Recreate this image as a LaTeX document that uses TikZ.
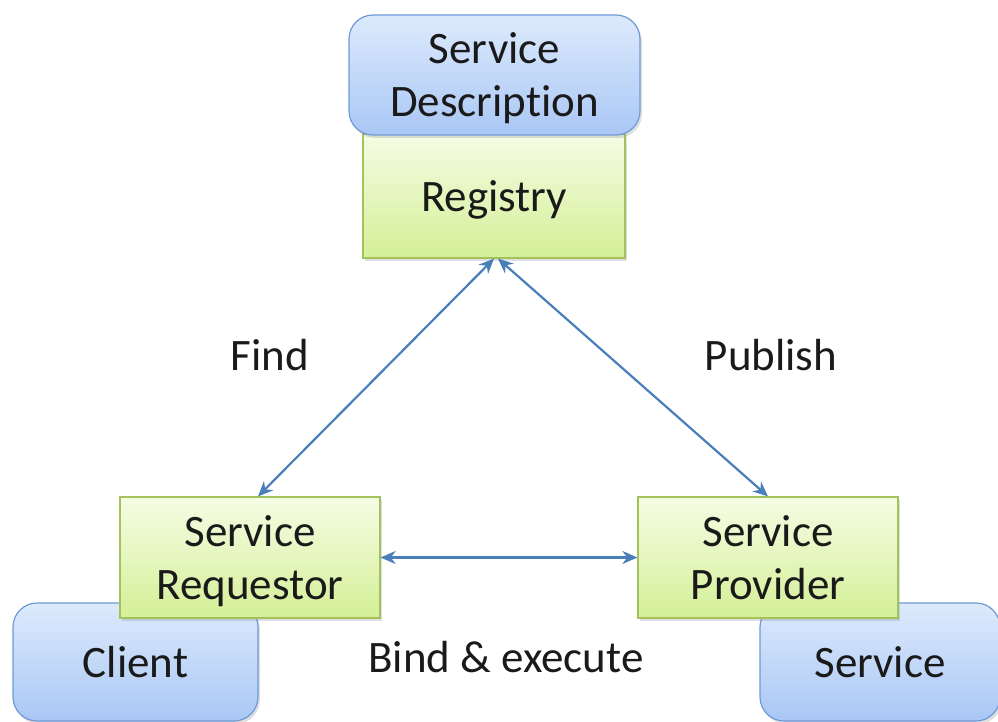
\documentclass[tikz,border=0pt]{standalone}
\usepackage{fontspec}
\setmainfont{Carlito}[Ligatures=CommonOff]
\usetikzlibrary{arrows.meta,shadows}
\definecolor{bluetop}{HTML}{DDEAFC}
\definecolor{bluebot}{HTML}{A9C7F5}
\definecolor{blueline}{HTML}{6F9AD6}
\definecolor{greentop}{HTML}{F5FCE4}
\definecolor{greenbot}{HTML}{D4F097}
\definecolor{greenline}{HTML}{A3C25C}
\definecolor{arrowblue}{HTML}{4A7EBB}
\definecolor{ink}{HTML}{1A1A1A}
% line strut: 42pt above the baseline, 11pt below
\newcommand\lnstrut{\rule[-11pt]{0pt}{53pt}}
\tikzset{
  boxtext/.style={align=center, text=ink, font=\fontsize{45}{53}\selectfont, inner sep=0pt},
  rolebox/.style={boxtext, draw=greenline, line width=1.2pt, top color=greentop, bottom color=greenbot,
    minimum width=260pt, minimum height=121pt,
    drop shadow={opacity=0.25, shadow xshift=2pt, shadow yshift=-3pt}},
  partbox/.style={boxtext, draw=blueline, line width=1.2pt, top color=bluetop, bottom color=bluebot,
    rounded corners=24pt,
    drop shadow={opacity=0.25, shadow xshift=2pt, shadow yshift=-3pt}},
  link/.style={arrowblue, line width=2.2pt, {Stealth[length=15pt,width=13pt]}-{Stealth[length=15pt,width=13pt]}},
  lbl/.style={text=ink, font=\fontsize{45}{53}\selectfont, inner sep=0pt}
}
\begin{document}
\begin{tikzpicture}[x=1pt,y=-1pt]
\useasboundingbox (0,0) rectangle (998,722);
% parts standing behind the roles
\node[partbox, minimum width=245pt, minimum height=118pt] (client) at (135.5,662) {Client\lnstrut};
\node[partbox, minimum width=240pt, minimum height=118pt] (service) at (880,662) {Service\lnstrut};
% the three roles
\node[rolebox, minimum width=262pt, minimum height=124pt] (reg) at (494,196) {Registry\lnstrut};
\node[rolebox] (req) at (250,557.5) {Service\lnstrut\\Requestor\lnstrut};
\node[rolebox] (prov) at (768,557.5) {Service\lnstrut\\Provider\lnstrut};
% description sitting on top of the registry
\node[partbox, minimum width=291pt, minimum height=120pt] (desc) at (494.5,75) {Service\lnstrut\\Description\lnstrut};
% interactions
\draw[link] ([xshift=0pt]reg.south) -- ([xshift=8pt]req.north);
\draw[link] ([xshift=4pt]reg.south) -- (prov.north);
\draw[link] (req.east) -- (prov.west);
\node[lbl] (find) at (270,355) {Find\lnstrut};
\node[lbl] (pub) at (771,355) {Publish\lnstrut};
\node[lbl] (bind) at (506,657) {Bind \& execute\lnstrut};
\end{tikzpicture}
\end{document}
